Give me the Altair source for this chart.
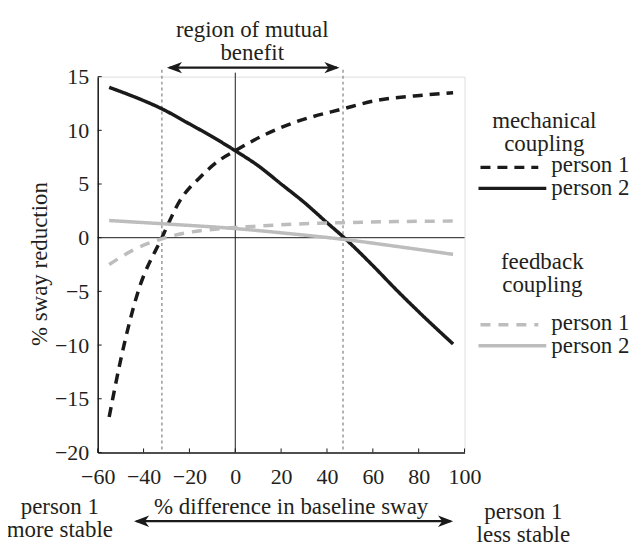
import altair as alt
import pandas as pd

# ---- data ----
mech_p1_x = [-55, -50, -42.5, -32, -24, -15, -7, 0, 12, 26, 47, 62, 78, 95]
mech_p1_y = [-16.7, -11.4, -5.1, 0.0, 3.5, 5.7, 7.2, 8.1, 9.5, 10.75, 12.0, 12.8, 13.2, 13.5]

mech_p2_x = [-55, -45, -32, -20, -10, 0, 10, 20, 30, 40, 47.5, 60, 70, 80, 95]
mech_p2_y = [14.0, 13.2, 12.0, 10.6, 9.4, 8.1, 6.7, 5.0, 3.3, 1.4, 0.0, -2.6, -4.8, -6.9, -9.9]

fb_p1_x = [-55, -45, -32, -20, -6, 12, 30, 47, 70, 95]
fb_p1_y = [-2.5, -1.2, -0.1, 0.5, 0.85, 1.1, 1.3, 1.4, 1.5, 1.55]

fb_p2_x = [-55, -32, 0, 25, 47, 70, 95]
fb_p2_y = [1.6, 1.3, 0.85, 0.35, -0.15, -0.8, -1.55]

series_names = ["feedback person 1", "feedback person 2", "mechanical person 1", "mechanical person 2"]
series_colors = ["#bdbdbd", "#bdbdbd", "#1a1a1a", "#1a1a1a"]
series_dash = [[10, 8], [1, 0], [10, 7], [1, 0]]
series_width = [3.5, 3.5, 3.2, 3.2]

benefit_bounds = [-32, 47]
x_ticks = [-60, -40, -20, 0, 20, 40, 60, 80, 100]
y_ticks = [-20, -15, -10, -5, 0, 5, 10, 15]

W, H = 368, 377
FONT = "Liberation Serif"
FS = 23
TFS = 22
TXT = "#231f20"

rows = []
for name, xs, ys in [
    ("mechanical person 1", mech_p1_x, mech_p1_y),
    ("mechanical person 2", mech_p2_x, mech_p2_y),
    ("feedback person 1", fb_p1_x, fb_p1_y),
    ("feedback person 2", fb_p2_x, fb_p2_y),
]:
    for i, (a, b) in enumerate(zip(xs, ys)):
        rows.append({"x": a, "y": b, "series": name, "i": i})
df = pd.DataFrame(rows)

xscale = alt.Scale(domain=[-60, 100], nice=False, zero=False)
yscale = alt.Scale(domain=[-20, 15], nice=False, zero=False)

one = pd.DataFrame({"a": [0]})

def text_at(txt, x, y, align="center", angle=0, size=FS, lh=None):
    kw = dict(text=txt, font=FONT, fontSize=size, color=TXT, align=align, baseline="middle")
    if angle:
        kw["angle"] = angle
    if lh:
        kw["lineHeight"] = lh
    return alt.Chart(one).mark_text(**kw).encode(x=alt.value(x), y=alt.value(y))

def rule_px(x1, x2, y1, y2, color="#1a1a1a", width=1.0, dash=None):
    kw = dict(color=color, strokeWidth=width)
    if dash:
        kw["strokeDash"] = dash
    return alt.Chart(one).mark_rule(**kw).encode(
        x=alt.value(x1), x2=alt.value(x2), y=alt.value(y1), y2=alt.value(y2))

base = alt.Chart(df)

zero_v = alt.Chart(pd.DataFrame({"x": [0]})).mark_rule(color="#1a1a1a", strokeWidth=1).encode(
    x=alt.X("x:Q", scale=xscale), y=alt.value(-4), y2=alt.value(H))
zero_h = alt.Chart(pd.DataFrame({"y": [0]})).mark_rule(color="#1a1a1a", strokeWidth=1).encode(
    y=alt.Y("y:Q", scale=yscale), x=alt.value(0), x2=alt.value(W))

bounds = alt.Chart(pd.DataFrame({"x": benefit_bounds})).mark_rule(
    color="#808080", strokeWidth=1.2, strokeDash=[3, 3]).encode(
    x=alt.X("x:Q", scale=xscale), y=alt.value(-7), y2=alt.value(H))

lines = base.mark_line(interpolate="monotone").encode(
    x=alt.X("x:Q", scale=xscale,
            axis=alt.Axis(values=x_ticks, title=None, ticks=False, grid=False,
                          domainColor="#1a1a1a", domainWidth=1.5,
                          labelFont=FONT, labelFontSize=TFS, labelColor=TXT,
                          labelPadding=14, labelFlush=False)),
    y=alt.Y("y:Q", scale=yscale,
            axis=alt.Axis(values=y_ticks, title=None, ticks=False, grid=False,
                          domainColor="#1a1a1a", domainWidth=1.5,
                          labelFont=FONT, labelFontSize=TFS, labelColor=TXT,
                          labelPadding=9, labelFlush=False)),
    color=alt.Color("series:N", scale=alt.Scale(domain=series_names, range=series_colors), legend=None),
    strokeDash=alt.StrokeDash("series:N", scale=alt.Scale(domain=series_names, range=series_dash), legend=None),
    strokeWidth=alt.StrokeWidth("series:N", scale=alt.Scale(domain=series_names, range=series_width), legend=None),
    order="i:Q",
)

xt = alt.Chart(pd.DataFrame({"x": x_ticks})).mark_rule(color="#1a1a1a", strokeWidth=1).encode(
    x=alt.X("x:Q", scale=xscale), y=alt.value(H - 4), y2=alt.value(H))
yt = alt.Chart(pd.DataFrame({"y": y_ticks})).mark_rule(color="#1a1a1a", strokeWidth=1).encode(
    y=alt.Y("y:Q", scale=yscale), x=alt.value(0), x2=alt.value(4))

LEFT_HEAD = "M -1 0 L 1 -0.75 L 0.45 0 L 1 0.75 Z"
RIGHT_HEAD = "M 1 0 L -1 -0.75 L -0.45 0 L -1 0.75 Z"

def arrow(x1, x2, y):
    shaft = rule_px(x1 + 4, x2 - 4, y, y, width=2.2)
    lh = alt.Chart(one).mark_point(shape=LEFT_HEAD, filled=True, color="#1a1a1a", size=230, opacity=1).encode(
        x=alt.value(x1 + 9), y=alt.value(y))
    rh = alt.Chart(one).mark_point(shape=RIGHT_HEAD, filled=True, color="#1a1a1a", size=230, opacity=1).encode(
        x=alt.value(x2 - 9), y=alt.value(y))
    return shaft + lh + rh

top_arrow = arrow(68, 244, -9)
bottom_arrow = arrow(35, 358, 446)

annotations = [
    text_at(["region of mutual", "benefit"], 155, -47, lh=23),
    text_at("% difference in baseline sway", 194, 432),
    text_at(["person 1", "more stable"], -38, 432, lh=23),
    text_at(["person 1", "less stable"], 427, 437, lh=23),
    text_at("% sway reduction", -58, 188, angle=270),
    # legend: mechanical
    text_at("mechanical", 448, 45),
    text_at("coupling", 448, 68),
    text_at("person 1", 455, 89, align="left"),
    text_at("person 2", 455, 112, align="left"),
    # legend: feedback
    text_at("feedback", 446, 186),
    text_at("coupling", 446, 209),
    text_at("person 1", 455, 247, align="left"),
    text_at("person 2", 455, 270, align="left"),
]

legend_lines = [
    rule_px(384, 442, 91, 91, color="#1a1a1a", width=3.2, dash=[10, 7]),
    rule_px(382, 450, 112, 112, color="#1a1a1a", width=3.2),
    rule_px(384, 442, 249, 249, color="#bdbdbd", width=3.5, dash=[10, 8]),
    rule_px(382, 450, 270, 270, color="#bdbdbd", width=3.5),
]

chart = alt.layer(
    bounds, zero_v, zero_h, lines, xt, yt, top_arrow, bottom_arrow, *annotations, *legend_lines
).properties(
    width=W, height=H,
    autosize=alt.AutoSizeParams(type="none"),
    padding={"left": 90, "top": 68, "right": 168, "bottom": 93},
).configure_view(stroke=None).configure(background="white")

chart.save("out.html", embed_options={"renderer": "svg", "actions": False})
